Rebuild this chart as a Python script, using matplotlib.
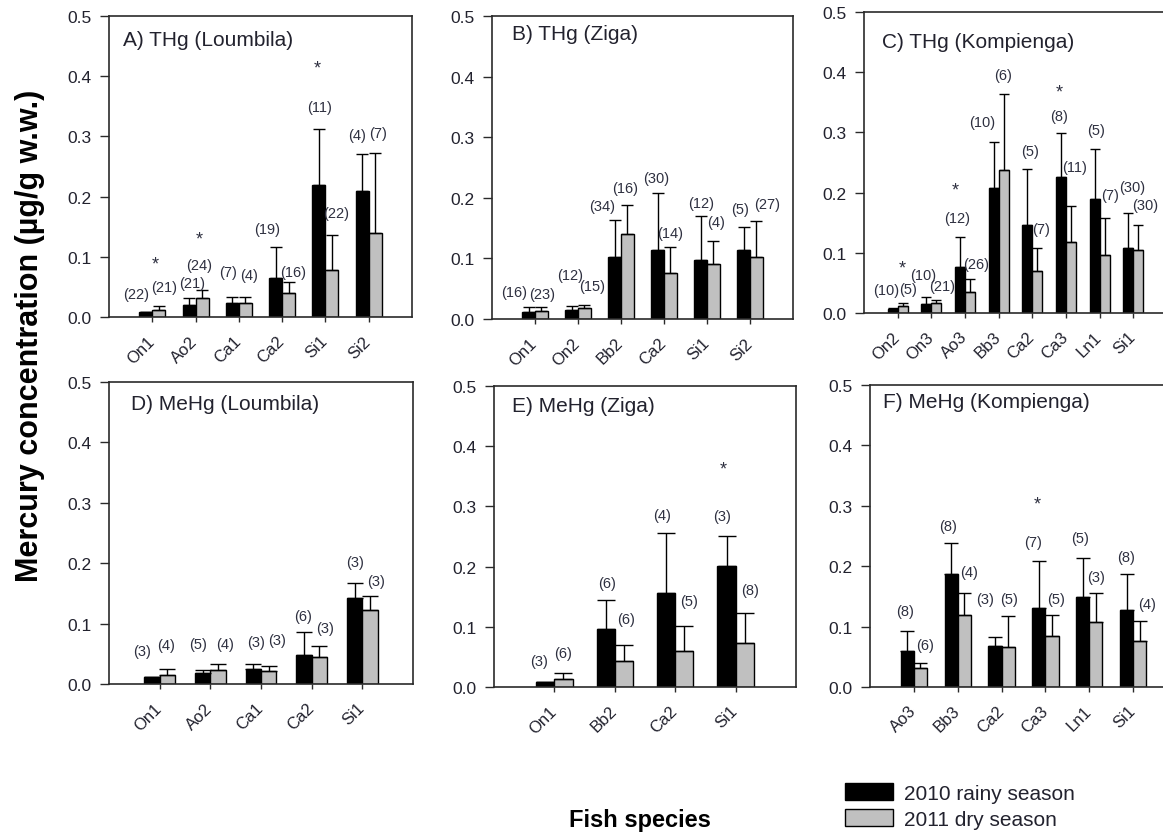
import matplotlib
matplotlib.use("Agg")
import matplotlib.pyplot as plt
from matplotlib.transforms import ScaledTranslation

plt.rcParams["font.family"] = ["Liberation Sans", "DejaVu Sans"]

# ---------------------------------------------------------------- data
# A) THg, Loumbila
A_species = ["On1", "Ao2", "Ca1", "Ca2", "Si1", "Si2"]
A_rainy = [0.008, 0.0205, 0.023, 0.064, 0.220, 0.209]
A_rainy_sd = [0.0, 0.0115, 0.010, 0.052, 0.092, 0.062]
A_dry = [0.011, 0.0316, 0.023, 0.040, 0.0775, 0.140]
A_dry_sd = [0.008, 0.0134, 0.010, 0.018, 0.0595, 0.133]
A_n_rainy = [22, 21, 7, 19, 11, 4]
A_n_dry = [21, 24, 4, 16, 22, 7]
A_signif = ["On1", "Ao2", "Si1"]

# B) THg, Ziga
B_species = ["On1", "On2", "Bb2", "Ca2", "Si1", "Si2"]
B_rainy = [0.011, 0.0154, 0.102, 0.1145, 0.098, 0.1145]
B_rainy_sd = [0.008, 0.0066, 0.0615, 0.093, 0.0727, 0.0365]
B_dry = [0.0127, 0.0176, 0.140, 0.076, 0.091, 0.103]
B_dry_sd = [0.0063, 0.0061, 0.048, 0.042, 0.037, 0.0594]
B_n_rainy = [16, 12, 34, 30, 12, 5]
B_n_dry = [23, 15, 16, 14, 4, 27]
B_signif = []

# C) THg, Kompienga
C_species = ["On2", "On3", "Ao3", "Bb3", "Ca2", "Ca3", "Ln1", "Si1"]
C_rainy = [0.007, 0.0144, 0.0764, 0.2076, 0.147, 0.226, 0.190, 0.108]
C_rainy_sd = [0.001, 0.0122, 0.0496, 0.0764, 0.092, 0.073, 0.083, 0.0587]
C_dry = [0.0116, 0.0166, 0.035, 0.237, 0.069, 0.118, 0.097, 0.104]
C_dry_sd = [0.005, 0.0054, 0.021, 0.127, 0.039, 0.060, 0.061, 0.043]
C_n_rainy = [10, 10, 12, 10, 5, 8, 5, 30]
C_n_dry = [5, 21, 26, 6, 7, 11, 7, 30]
C_signif = ["On2", "Ao3", "Ca3"]

# D) MeHg, Loumbila
D_species = ["On1", "Ao2", "Ca1", "Ca2", "Si1"]
D_rainy = [0.011, 0.019, 0.025, 0.0486, 0.1425]
D_rainy_sd = [0.0, 0.004, 0.008, 0.038, 0.0245]
D_dry = [0.015, 0.023, 0.021, 0.044, 0.123]
D_dry_sd = [0.010, 0.010, 0.008, 0.0195, 0.023]
D_n_rainy = [3, 5, 3, 6, 3]
D_n_dry = [4, 4, 3, 3, 3]
D_signif = []

# E) MeHg, Ziga
E_species = ["On1", "Bb2", "Ca2", "Si1"]
E_rainy = [0.0089, 0.0958, 0.1556, 0.201]
E_rainy_sd = [0.0, 0.0487, 0.1004, 0.050]
E_dry = [0.0127, 0.0426, 0.0598, 0.0725]
E_dry_sd = [0.010, 0.0272, 0.0412, 0.050]
E_n_rainy = [3, 6, 4, 3]
E_n_dry = [6, 6, 5, 8]
E_signif = ["Si1"]

# F) MeHg, Kompienga
F_species = ["Ao3", "Bb3", "Ca2", "Ca3", "Ln1", "Si1"]
F_rainy = [0.059, 0.187, 0.0677, 0.1305, 0.1487, 0.128]
F_rainy_sd = [0.033, 0.051, 0.0149, 0.0775, 0.065, 0.059]
F_dry = [0.032, 0.1195, 0.067, 0.084, 0.1074, 0.0754]
F_dry_sd = [0.0076, 0.0365, 0.050, 0.0355, 0.0476, 0.0336]
F_n_rainy = [8, 8, 3, 7, 5, 8]
F_n_dry = [6, 4, 5, 5, 3, 4]
F_signif = ["Ca3"]

titles = ["A) THg (Loumbila)", "B) THg (Ziga)", "C) THg (Kompienga)",
          "D) MeHg (Loumbila)", "E) MeHg (Ziga)", "F) MeHg (Kompienga)"]
series_labels = ["2010 rainy season", "2011 dry season"]
yticks = [0.0, 0.1, 0.2, 0.3, 0.4, 0.5]

# ---------------------------------------------------------------- annotation placement
# (x in category units, y in data units) for the sample-size labels and asterisks
A_nr_pos = [(0.62, 0.039), (1.91, 0.057), (2.75, 0.075), (3.65, 0.147), (4.87, 0.349), (5.72, 0.302)]
A_nd_pos = [(1.27, 0.050), (2.08, 0.086), (3.23, 0.070), (4.26, 0.075), (5.24, 0.173), (6.21, 0.306)]
A_star_pos = [(1.08, 0.0886), (2.08, 0.130), (4.80, 0.414)]

B_nr_pos = [(0.51, 0.044), (1.82, 0.073), (2.55, 0.186), (3.81, 0.233), (4.87, 0.192), (5.78, 0.182)]
B_nd_pos = [(1.16, 0.041), (2.32, 0.054), (3.09, 0.216), (4.14, 0.1415), (5.20, 0.160), (6.40, 0.190)]
B_star_pos = []

C_nr_pos = [(0.67, 0.0377), (1.76, 0.0637), (2.77, 0.158), (3.52, 0.318), (4.93, 0.269), (5.80, 0.328), (6.88, 0.3045), (7.97, 0.209)]
C_nd_pos = [(1.32, 0.040), (2.33, 0.045), (3.34, 0.081), (4.13, 0.396), (5.27, 0.140), (6.26, 0.2425), (7.30, 0.1955), (8.34, 0.180)]
C_star_pos = [(1.14, 0.074), (2.72, 0.204), (5.80, 0.367)]

D_nr_pos = [(0.66, 0.055), (1.76, 0.067), (2.91, 0.069), (3.83, 0.113), (4.85, 0.2017)]
D_nd_pos = [(1.12, 0.0646), (2.30, 0.067), (3.32, 0.0735), (4.26, 0.092), (5.27, 0.171)]
D_star_pos = []

E_nr_pos = [(0.75, 0.043), (1.88, 0.173), (2.78, 0.2857), (3.78, 0.284)]
E_nd_pos = [(1.14, 0.056), (2.19, 0.1135), (3.23, 0.143), (4.24, 0.1606)]
E_star_pos = [(3.79, 0.3616)]

F_nr_pos = [(0.80, 0.1255), (1.77, 0.267), (2.63, 0.146), (3.71, 0.2406), (4.78, 0.246), (5.84, 0.2148)]
F_nd_pos = [(1.26, 0.0688), (2.25, 0.190), (3.17, 0.146), (4.24, 0.146), (5.15, 0.1817), (6.32, 0.1377)]
F_star_pos = [(3.81, 0.303)]

# axes boxes in pixels: left, top, right, bottom
boxes_px = [(109, 17, 412, 318), (492, 17, 793, 320), (864, 13, 1167, 314),
            (109, 383, 413, 685), (494, 387, 796, 688), (870, 386, 1177, 688)]
title_offsets_px = [(14, 23), (20, 18), (18, 29), (22, 22), (18, 20), (13, 17)]

panels = [
    (A_species, A_rainy, A_rainy_sd, A_dry, A_dry_sd, A_n_rainy, A_n_dry, A_nr_pos, A_nd_pos, A_star_pos),
    (B_species, B_rainy, B_rainy_sd, B_dry, B_dry_sd, B_n_rainy, B_n_dry, B_nr_pos, B_nd_pos, B_star_pos),
    (C_species, C_rainy, C_rainy_sd, C_dry, C_dry_sd, C_n_rainy, C_n_dry, C_nr_pos, C_nd_pos, C_star_pos),
    (D_species, D_rainy, D_rainy_sd, D_dry, D_dry_sd, D_n_rainy, D_n_dry, D_nr_pos, D_nd_pos, D_star_pos),
    (E_species, E_rainy, E_rainy_sd, E_dry, E_dry_sd, E_n_rainy, E_n_dry, E_nr_pos, E_nd_pos, E_star_pos),
    (F_species, F_rainy, F_rainy_sd, F_dry, F_dry_sd, F_n_rainy, F_n_dry, F_nr_pos, F_nd_pos, F_star_pos),
]

# ---------------------------------------------------------------- figure
W, H, DPI = 1163, 837, 100
fig = plt.figure(figsize=(W / DPI, H / DPI), dpi=DPI)
fig.patch.set_facecolor("white")

spine_col = "#2a2a2a"
text_col = "#22222e"
label_col = "#2e3040"
rainy_col = "black"
dry_col = "#c0c0c0"
bar_w = 0.3

handles = None
for k, (species, rainy, rainy_sd, dry, dry_sd, n_r, n_d, nr_pos, nd_pos, star_pos) in enumerate(panels):
    l, t, r, b = boxes_px[k]
    ax = fig.add_axes([l / W, 1 - b / H, (r - l) / W, (b - t) / H])
    n = len(species)
    x = list(range(1, n + 1))
    ax.set_xlim(0, n + 1)
    ax.set_ylim(0, 0.5)

    # cap length equal to the bar width
    px_per_unit = (r - l) / (n + 1)
    cap = bar_w * px_per_unit / 2 * 72 / DPI

    xr = [v - bar_w / 2 for v in x]
    xd = [v + bar_w / 2 for v in x]
    h1 = ax.bar(xr, rainy, bar_w, color=rainy_col, edgecolor="black", linewidth=1.0, zorder=2)
    h2 = ax.bar(xd, dry, bar_w, color=dry_col, edgecolor="black", linewidth=1.0, zorder=2)
    ax.errorbar(xr, rainy, yerr=[[0] * n, rainy_sd], fmt="none", ecolor="black",
                elinewidth=1.0, capsize=cap, capthick=1.0, zorder=3)
    ax.errorbar(xd, dry, yerr=[[0] * n, dry_sd], fmt="none", ecolor="black",
                elinewidth=1.0, capsize=cap, capthick=1.0, zorder=3)
    if handles is None:
        handles = [h1, h2]

    for cnt, (px_, py_) in zip(n_r, nr_pos):
        ax.text(px_, py_, f"({cnt})", ha="center", va="center", fontsize=10.5, color=label_col, zorder=4)
    for cnt, (px_, py_) in zip(n_d, nd_pos):
        ax.text(px_, py_, f"({cnt})", ha="center", va="center", fontsize=10.5, color=label_col, zorder=4)
    for (px_, py_) in star_pos:
        ax.text(px_, py_, "*", ha="center", va="center", fontsize=13, color=label_col, zorder=4)

    ax.set_yticks(yticks)
    ax.set_yticklabels([f"{v:.1f}" for v in yticks])
    ax.set_xticks(x)
    ax.set_xticklabels(species, rotation=45, ha="right")
    ax.tick_params(axis="y", direction="out", length=6.5, width=1.0, color=spine_col,
                   labelsize=12.5, labelcolor=text_col, pad=6)
    ax.tick_params(axis="x", direction="out", length=3.5, width=1.0, color=spine_col,
                   labelsize=12, labelcolor=text_col, pad=8)
    for lbl in ax.get_xticklabels():
        lbl.set_transform(lbl.get_transform() + ScaledTranslation(5 / DPI, 0, fig.dpi_scale_trans))
    for s in ax.spines.values():
        s.set_color(spine_col)
        s.set_linewidth(1.2)

    ox, oy = title_offsets_px[k]
    ax.annotate(titles[k], xy=(0, 1), xycoords="axes fraction",
                xytext=(ox * 72 / DPI, -oy * 72 / DPI), textcoords="offset points",
                ha="left", va="center", fontsize=15, color=text_col)

fig.text(30 / W, 1 - 336 / H, "Mercury concentration (µg/g w.w.)", rotation=90,
         ha="center", va="center", fontsize=22, fontweight="bold", color="black")
fig.text(640 / W, 1 - 821 / H, "Fish species", ha="center", va="center",
         fontsize=17, fontweight="bold", color="black")

fig.legend(handles, series_labels, loc="upper left", bbox_to_anchor=(845 / W, 1 - 784 / H),
           frameon=False, fontsize=15, handlelength=2.3, handleheight=0.87,
           handletextpad=0.55, labelspacing=0.3, borderpad=0, borderaxespad=0,
           labelcolor=text_col)

fig.savefig("out.png", dpi=DPI)
